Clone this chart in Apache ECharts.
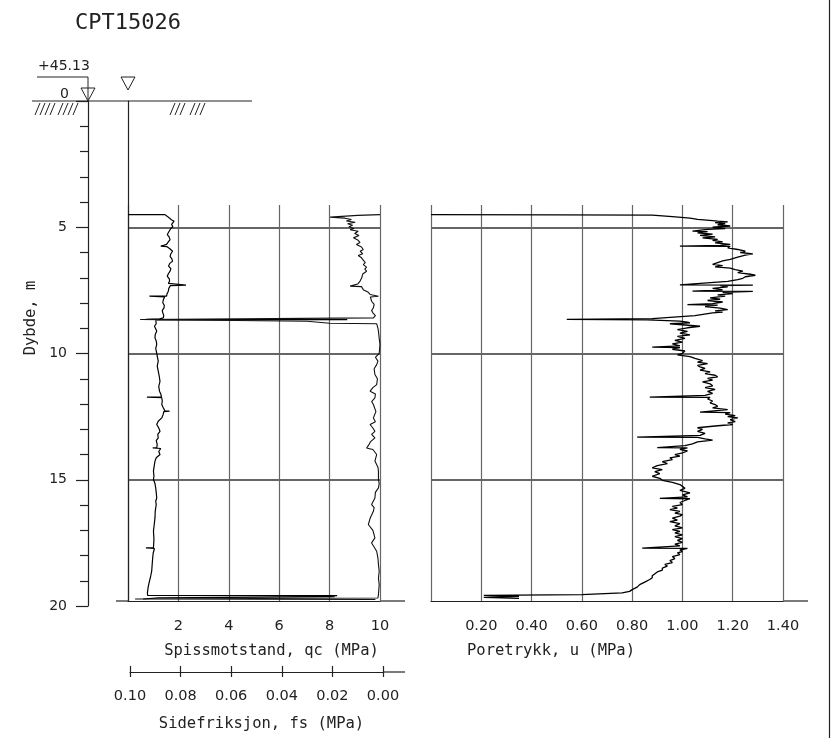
<!DOCTYPE html>
<html><head><meta charset="utf-8">
<script src="https://cdn.jsdelivr.net/npm/echarts@6/dist/echarts.min.js"></script>
<style>html,body{margin:0;padding:0;background:#fff}#chart{width:832px;height:738px}</style>
</head><body><div id="chart"></div>
<script>
// ---- texts ----
const chartTitle = 'CPT15026';
const groundLevel = '+45.13';
const depthName = 'Dybde, m';
const qcName = 'Spissmotstand, qc (MPa)';
const fsName = 'Sidefriksjon, fs (MPa)';
const uName = 'Poretrykk, u (MPa)';

// ---- axis ranges / ticks ----
const depthRange = [0, 20];
const depthStep = 5;
const panelDepthMax = 19.8;
const qcRange = [0, 10];
const qcStep = 2;
const fsRange = [0, 0.1];
const fsStep = 0.02;
const uRange = [0, 1.4];
const uStep = 0.2;

// ---- data: [depth (m), value] ----
const qcProfile = [
[4.50,0.00],[4.50,1.47],[4.56,1.55],[4.63,1.64],[4.70,1.72],[4.76,1.83],[4.82,1.76],[4.89,1.73],[4.97,1.78],[5.05,1.70],
[5.09,1.67],[5.18,1.62],[5.29,1.56],[5.38,1.63],[5.49,1.67],[5.58,1.60],[5.68,1.53],[5.75,1.52],[5.75,1.30],[5.77,1.55],
[5.85,1.66],[5.95,1.77],[6.05,1.70],[6.15,1.67],[6.25,1.74],[6.34,1.77],[6.44,1.65],[6.54,1.61],[6.64,1.70],[6.74,1.67],
[6.84,1.60],[6.94,1.56],[7.04,1.64],[7.14,1.65],[7.22,1.60],[7.29,1.67],[7.29,2.30],[7.31,1.68],[7.42,1.62],[7.53,1.60],
[7.63,1.55],[7.73,1.53],[7.73,0.85],[7.76,1.45],[7.88,1.40],[7.99,1.38],[8.09,1.44],[8.19,1.43],[8.29,1.36],[8.39,1.38],
[8.49,1.42],[8.59,1.40],[8.63,1.25],[8.65,0.72],[8.66,8.70],[8.68,1.10],[8.72,1.07],[8.82,1.12],[8.92,1.05],[9.02,1.10],
[9.12,1.14],[9.25,1.08],[9.38,1.07],[9.50,1.12],[9.64,1.14],[9.80,1.10],[9.99,1.14],[10.15,1.17],[10.30,1.20],[10.50,1.16],
[10.70,1.20],[10.90,1.24],[11.10,1.27],[11.30,1.22],[11.49,1.25],[11.60,1.30],[11.73,1.33],[11.73,0.75],[11.75,1.34],[11.88,1.36],
[12.02,1.34],[12.15,1.40],[12.28,1.47],[12.28,1.65],[12.30,1.42],[12.40,1.40],[12.55,1.34],[12.68,1.20],[12.81,1.14],[12.95,1.22],
[13.08,1.27],[13.20,1.18],[13.34,1.20],[13.45,1.12],[13.60,1.16],[13.74,1.14],[13.74,0.98],[13.76,1.30],[13.88,1.22],[14.00,1.27],
[14.13,1.12],[14.26,1.07],[14.45,1.04],[14.66,1.01],[14.85,1.03],[14.99,1.01],[15.15,1.07],[15.32,1.10],[15.50,1.12],[15.72,1.14],
[15.85,1.10],[15.98,1.12],[16.25,1.08],[16.51,1.07],[16.78,1.04],[17.04,1.01],[17.35,1.03],[17.70,1.01],[17.70,0.71],[17.72,1.05],
[17.90,1.00],[18.09,0.98],[18.35,0.96],[18.62,0.94],[18.82,0.90],[19.02,0.85],[19.25,0.80],[19.48,0.77],[19.58,0.78],[19.59,8.30],
[19.62,7.50],[19.63,8.20],[19.68,1.20],[19.72,0.60]
];
const fsProfile = [
[4.50,0.0012],[4.53,0.0100],[4.60,0.0209],[4.64,0.0150],[4.69,0.0125],[4.75,0.0145],[4.80,0.0110],[4.86,0.0140],[4.92,0.0120],[4.98,0.0135],
[5.05,0.0115],[5.10,0.0130],[5.16,0.0098],[5.25,0.0112],[5.33,0.0095],[5.42,0.0117],[5.50,0.0100],[5.60,0.0091],[5.68,0.0105],[5.78,0.0085],
[5.88,0.0078],[5.95,0.0090],[6.05,0.0080],[6.12,0.0098],[6.21,0.0085],[6.30,0.0078],[6.40,0.0070],[6.48,0.0078],[6.58,0.0065],[6.66,0.0072],
[6.74,0.0065],[6.85,0.0080],[7.00,0.0084],[7.12,0.0090],[7.25,0.0100],[7.33,0.0130],[7.35,0.0085],[7.47,0.0078],[7.56,0.0060],[7.66,0.0051],
[7.73,0.0018],[7.76,0.0050],[7.93,0.0045],[8.05,0.0035],[8.19,0.0038],[8.30,0.0045],[8.39,0.0040],[8.50,0.0030],[8.59,0.0038],[8.63,0.0040],
[8.65,0.0960],[8.72,0.0300],[8.80,0.0210],[8.82,0.0025],[9.00,0.0020],[9.12,0.0018],[9.40,0.0015],[9.64,0.0012],[9.99,0.0015],[10.15,0.0030],
[10.30,0.0020],[10.44,0.0025],[10.60,0.0035],[10.83,0.0032],[11.00,0.0022],[11.23,0.0025],[11.35,0.0040],[11.49,0.0051],[11.60,0.0030],[11.76,0.0032],
[11.90,0.0045],[12.02,0.0038],[12.30,0.0028],[12.55,0.0038],[12.70,0.0030],[12.81,0.0051],[12.95,0.0040],[13.08,0.0032],[13.20,0.0045],[13.34,0.0032],
[13.50,0.0050],[13.65,0.0058],[13.74,0.0065],[13.80,0.0040],[14.00,0.0025],[14.26,0.0032],[14.50,0.0020],[14.66,0.0018],[14.99,0.0018],[15.15,0.0015],
[15.32,0.0018],[15.50,0.0030],[15.72,0.0032],[15.98,0.0045],[16.10,0.0035],[16.25,0.0038],[16.50,0.0050],[16.77,0.0058],[17.00,0.0040],[17.30,0.0032],
[17.50,0.0045],[17.83,0.0025],[18.10,0.0020],[18.36,0.0018],[18.62,0.0015],[18.90,0.0018],[19.15,0.0015],[19.54,0.0018],[19.68,0.0020],[19.72,0.0980],
[19.74,0.0030]
];
const uProfile = [
[4.50,0.00],[4.51,0.50],[4.52,0.88],[4.58,0.96],[4.64,1.03],[4.69,1.06],[4.74,1.12],[4.76,1.14],[4.79,1.18],[4.82,1.13],
[4.86,1.17],[4.90,1.14],[4.95,1.19],[5.00,1.12],[5.05,1.17],[5.08,1.10],[5.15,1.04],[5.17,1.10],[5.22,1.06],[5.27,1.12],
[5.32,1.07],[5.38,1.13],[5.42,1.08],[5.48,1.14],[5.52,1.12],[5.58,1.16],[5.62,1.13],[5.68,1.19],[5.72,1.15],[5.75,0.99],
[5.76,1.19],[5.82,1.18],[5.88,1.22],[5.95,1.25],[6.00,1.23],[6.05,1.28],[6.10,1.25],[6.18,1.22],[6.27,1.19],[6.33,1.16],
[6.40,1.14],[6.47,1.12],[6.52,1.16],[6.57,1.13],[6.62,1.19],[6.68,1.21],[6.74,1.24],[6.80,1.22],[6.86,1.27],[6.90,1.29],
[6.96,1.25],[7.02,1.24],[7.07,1.22],[7.14,1.18],[7.20,1.18],[7.28,0.99],[7.29,1.28],[7.31,1.15],[7.36,1.18],[7.42,1.12],
[7.48,1.16],[7.53,1.04],[7.54,1.28],[7.58,1.16],[7.63,1.20],[7.68,1.14],[7.73,1.17],[7.80,1.11],[7.85,1.15],[7.90,1.10],
[7.96,1.16],[8.02,1.12],[8.06,1.02],[8.08,1.14],[8.14,1.09],[8.20,1.15],[8.26,1.18],[8.31,1.13],[8.36,1.16],[8.39,1.12],
[8.50,1.05],[8.62,0.88],[8.65,0.54],[8.67,0.86],[8.72,0.99],[8.76,1.02],[8.79,1.03],[8.82,0.95],[8.86,1.00],[8.92,1.07],
[8.98,1.02],[9.05,0.98],[9.12,1.02],[9.19,0.99],[9.26,1.03],[9.32,0.98],[9.40,1.01],[9.48,0.97],[9.55,1.00],[9.62,0.96],
[9.70,0.99],[9.75,0.88],[9.77,0.99],[9.83,0.96],[9.90,1.01],[9.99,1.00],[10.05,0.98],[10.12,1.03],[10.19,1.05],[10.28,1.08],
[10.34,1.06],[10.40,1.10],[10.47,1.06],[10.53,1.07],[10.59,1.09],[10.66,1.07],[10.73,1.11],[10.80,1.09],[10.86,1.13],[10.92,1.14],
[10.98,1.10],[11.05,1.12],[11.12,1.08],[11.20,1.11],[11.28,1.12],[11.35,1.09],[11.42,1.13],[11.50,1.10],[11.58,1.12],[11.66,1.09],
[11.73,0.87],[11.74,1.11],[11.80,1.10],[11.88,1.12],[11.95,1.11],[12.02,1.13],[12.09,1.14],[12.15,1.12],[12.22,1.18],[12.32,1.07],
[12.34,1.19],[12.40,1.17],[12.46,1.21],[12.50,1.18],[12.55,1.22],[12.62,1.19],[12.70,1.21],[12.75,1.18],[12.81,1.20],[12.87,1.13],
[12.94,1.06],[13.00,1.08],[13.08,1.06],[13.16,1.09],[13.24,1.07],[13.31,0.82],[13.32,1.06],[13.38,1.09],[13.43,1.12],[13.50,1.06],
[13.58,1.04],[13.65,1.01],[13.73,0.90],[13.74,1.02],[13.80,0.99],[13.86,1.02],[13.93,1.00],[14.00,0.97],[14.06,0.99],[14.13,0.95],
[14.20,0.96],[14.28,0.92],[14.36,0.94],[14.44,0.90],[14.53,0.88],[14.60,0.92],[14.68,0.89],[14.76,0.91],[14.86,0.88],[14.94,0.91],
[15.02,0.92],[15.10,0.96],[15.19,0.99],[15.26,1.00],[15.34,1.01],[15.42,0.99],[15.52,1.03],[15.60,1.00],[15.68,1.02],[15.74,0.91],
[15.75,1.03],[15.82,1.01],[15.90,0.99],[15.98,1.00],[16.05,0.96],[16.12,0.98],[16.18,0.95],[16.25,0.99],[16.32,0.97],[16.38,1.00],
[16.44,0.99],[16.52,0.96],[16.60,0.98],[16.66,0.95],[16.74,0.99],[16.82,0.97],[16.90,1.00],[16.97,0.96],[17.04,0.99],[17.10,0.97],
[17.18,1.00],[17.25,0.97],[17.33,1.00],[17.40,0.98],[17.48,1.00],[17.55,0.97],[17.62,0.99],[17.71,0.84],[17.72,1.02],[17.78,0.99],
[17.84,1.00],[17.89,0.98],[17.96,0.99],[18.04,0.96],[18.12,0.97],[18.20,0.95],[18.28,0.96],[18.35,0.93],[18.42,0.94],[18.50,0.92],
[18.58,0.92],[18.65,0.90],[18.72,0.90],[18.80,0.88],[18.88,0.88],[18.95,0.87],[19.05,0.85],[19.15,0.83],[19.25,0.82],[19.35,0.80],
[19.42,0.79],[19.48,0.76],[19.55,0.60],[19.58,0.21],[19.62,0.35],[19.66,0.21],[19.70,0.35]
];

// ---- styling ----
const INK = '#222';
const MONO = 'DejaVu Sans Mono';
const SANS = 'DejaVu Sans';
const hGrid = { show: true, lineStyle: { color: '#333', width: 1.5 } };
const vGrid = { show: true, lineStyle: { color: '#666', width: 1.2 } };
const noGrid = { outerBoundsMode: 'none', containLabel: false };
const axisInk = { show: true, onZero: false, lineStyle: { color: INK, width: 1.2 } };
const noLine = { show: false, onZero: false };

const toXY = p => [p[1], p[0]];

const chart = echarts.init(document.getElementById('chart'), null, { renderer: 'canvas' });

const hatchX = [35, 40, 45, 50, 58, 63, 68, 73, 170, 175, 180, 190, 195, 200];
const graphic = [
  { type: 'text', x: 75, y: 12, style: { text: chartTitle, font: '22px "' + MONO + '"', fill: INK } },
  { type: 'text', x: 38, y: 59, style: { text: groundLevel, font: '14px "' + SANS + '"', fill: INK } },
  { type: 'text', x: 69, y: 87, style: { text: '0', font: '14px "' + SANS + '"', fill: INK, textAlign: 'right' } },
  { type: 'text', x: 31, y: 318, rotation: Math.PI / 2, style: { text: depthName, font: '15.5px "' + MONO + '"', fill: INK, textAlign: 'center', textVerticalAlign: 'middle' } },
  { type: 'line', shape: { x1: 37, y1: 77, x2: 88, y2: 77 }, style: { stroke: INK, lineWidth: 1 } },
  { type: 'line', shape: { x1: 88, y1: 77, x2: 88, y2: 101 }, style: { stroke: INK, lineWidth: 1 } },
  { type: 'polygon', shape: { points: [[81, 88], [95, 88], [88, 101]] }, style: { fill: 'none', stroke: INK, lineWidth: 1 } },
  { type: 'polygon', shape: { points: [[121, 77], [135, 77], [128, 90]] }, style: { fill: 'none', stroke: INK, lineWidth: 1 } },
  { type: 'line', shape: { x1: 32, y1: 101, x2: 252, y2: 101 }, style: { stroke: INK, lineWidth: 1.2 } },
  { type: 'line', shape: { x1: 116, y1: 601, x2: 128, y2: 601 }, style: { stroke: INK, lineWidth: 1.2 } },
  { type: 'line', shape: { x1: 380, y1: 601, x2: 405, y2: 601 }, style: { stroke: INK, lineWidth: 1.2 } },
  { type: 'line', shape: { x1: 783, y1: 601, x2: 808, y2: 601 }, style: { stroke: INK, lineWidth: 1.2 } },
  { type: 'line', shape: { x1: 383, y1: 672, x2: 405, y2: 672 }, style: { stroke: INK, lineWidth: 1.2 } },
  { type: 'line', shape: { x1: 829.5, y1: 0, x2: 829.5, y2: 738 }, style: { stroke: INK, lineWidth: 1.2 } }
].concat(hatchX.map(x => ({ type: 'line', shape: { x1: x, y1: 115, x2: x + 5, y2: 103 }, style: { stroke: INK, lineWidth: 1 } })));

const labelStyle = { color: INK, fontFamily: SANS, fontSize: 14.5 };
const nameStyle = { color: INK, fontFamily: MONO, fontSize: 15.5 };

const option = {
  animation: false,
  backgroundColor: '#fff',
  graphic: graphic,
  grid: [
    Object.assign({ left: 88, top: 101, width: 10, height: 505 }, noGrid),   // 0 depth scale
    Object.assign({ left: 128, top: 101, width: 252, height: 500 }, noGrid), // 1 qc data
    Object.assign({ left: 128, top: 205, width: 252, height: 396 }, noGrid), // 2 qc ticks/grid
    Object.assign({ left: 130, top: 101, width: 253, height: 500 }, noGrid), // 3 fs data/axis
    Object.assign({ left: 431, top: 101, width: 352, height: 500 }, noGrid), // 4 u data
    Object.assign({ left: 431, top: 205, width: 352, height: 396 }, noGrid), // 5 u ticks/grid
    Object.assign({ left: 130, top: 101, width: 253, height: 500 }, noGrid)  // 6 fs inner ticks
  ],
  xAxis: [
    { gridIndex: 0, type: 'value', show: false, min: 0, max: 1, axisLine: noLine },
    { gridIndex: 1, type: 'value', show: false, min: qcRange[0], max: qcRange[1], axisLine: noLine },
    { gridIndex: 2, type: 'value', position: 'bottom', min: qcRange[0], max: qcRange[1], interval: qcStep,
      axisLine: axisInk, axisTick: { show: false },
      axisLabel: { showMinLabel: false, margin: 18, ...labelStyle },
      splitLine: vGrid,
      name: qcName, nameLocation: 'middle', nameGap: 42, nameTextStyle: { ...nameStyle, padding: [0, 0, 0, 35] } },
    { gridIndex: 3, type: 'value', position: 'bottom', offset: 71, inverse: true, min: fsRange[0], max: fsRange[1], interval: fsStep,
      axisLine: axisInk,
      axisTick: { show: true, inside: false, length: 5, lineStyle: { color: INK, width: 1.2 } },
      axisLabel: { margin: 17, formatter: v => v.toFixed(2), ...labelStyle },
      splitLine: { show: false },
      name: fsName, nameLocation: 'middle', nameGap: 44, nameTextStyle: { ...nameStyle, padding: [0, 0, 0, 10] } },
    { gridIndex: 6, type: 'value', position: 'bottom', offset: 71, inverse: true, min: fsRange[0], max: fsRange[1], interval: fsStep,
      axisLine: noLine,
      axisTick: { show: true, inside: true, length: 6, lineStyle: { color: INK, width: 1.2 } },
      axisLabel: { show: false }, splitLine: { show: false } },
    { gridIndex: 4, type: 'value', show: false, min: uRange[0], max: uRange[1], axisLine: noLine },
    { gridIndex: 5, type: 'value', position: 'bottom', min: uRange[0], max: uRange[1], interval: uStep,
      axisLine: axisInk, axisTick: { show: false },
      axisLabel: { showMinLabel: false, margin: 18, formatter: v => v.toFixed(2), ...labelStyle },
      splitLine: vGrid,
      name: uName, nameLocation: 'middle', nameGap: 42, nameTextStyle: { ...nameStyle, padding: [0, 112, 0, 0] } }
  ],
  yAxis: [
    { gridIndex: 0, type: 'value', position: 'left', inverse: true, min: depthRange[0], max: depthRange[1], interval: depthStep,
      axisLine: axisInk,
      axisTick: { show: true, length: 12, lineStyle: { color: INK, width: 1.2 } },
      minorTick: { show: true, splitNumber: 5, length: 8, lineStyle: { color: INK, width: 1.2 } },
      axisLabel: { showMinLabel: false, margin: 21, ...labelStyle, fontSize: 14 },
      splitLine: { show: false } },
    { gridIndex: 1, type: 'value', position: 'left', inverse: true, min: 0, max: panelDepthMax, interval: depthStep,
      axisLine: axisInk, axisTick: { show: false }, axisLabel: { show: false },
      splitLine: { ...hGrid, showMinLine: false, showMaxLine: false } },
    { gridIndex: 2, type: 'value', show: false, min: 0, max: 1, axisLine: noLine },
    { gridIndex: 3, type: 'value', show: false, inverse: true, min: 0, max: panelDepthMax, axisLine: noLine },
    { gridIndex: 4, type: 'value', position: 'left', inverse: true, min: 0, max: panelDepthMax, interval: depthStep,
      axisLine: noLine, axisTick: { show: false }, axisLabel: { show: false },
      splitLine: { ...hGrid, showMinLine: false, showMaxLine: false } },
    { gridIndex: 5, type: 'value', show: false, min: 0, max: 1, axisLine: noLine },
    { gridIndex: 6, type: 'value', show: false, min: 0, max: 1, axisLine: noLine }
  ],
  series: [
    { name: 'qc', type: 'line', xAxisIndex: 1, yAxisIndex: 1, data: qcProfile.map(toXY),
      symbol: 'none', lineStyle: { color: '#000', width: 1.2 }, silent: true, z: 5 },
    { name: 'fs', type: 'line', xAxisIndex: 3, yAxisIndex: 3, data: fsProfile.map(toXY),
      symbol: 'none', lineStyle: { color: '#111', width: 1.1 }, silent: true, z: 5 },
    { name: 'u', type: 'line', xAxisIndex: 5, yAxisIndex: 4, data: uProfile.map(toXY),
      symbol: 'none', lineStyle: { color: '#000', width: 1.3 }, silent: true, z: 5 }
  ]
};
chart.setOption(option);
</script>
</body></html>
